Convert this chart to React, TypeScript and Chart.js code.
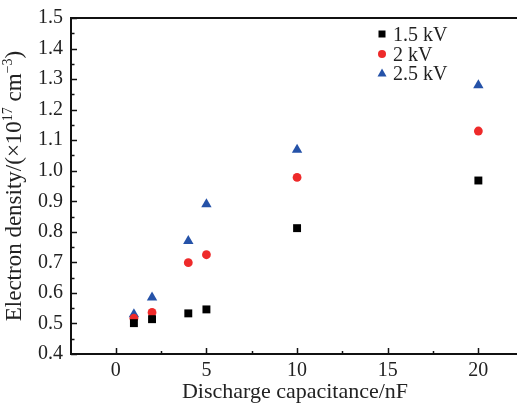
import React, { useEffect, useRef } from "react";
import { Chart, registerables } from "chart.js";

Chart.register(...registerables);

const capacitance = [1, 2, 4, 5, 10, 20];
const density15kV = [0.501, 0.514, 0.533, 0.546, 0.812, 0.968];
const density2kV = [0.517, 0.536, 0.699, 0.725, 0.978, 1.13];
const density25kV = [0.53, 0.585, 0.77, 0.89, 1.069, 1.28];
const seriesLabels = ["1.5 kV", "2 kV", "2.5 kV"];
const xTickValues = [0, 5, 10, 15, 20];
const yTickValues = [0.4, 0.5, 0.6, 0.7, 0.8, 0.9, 1.0, 1.1, 1.2, 1.3, 1.4, 1.5];

const FONT = '"Liberation Serif", "Times New Roman", serif';
const TEXT = "#222";

const toPoints = (ys: number[]) => capacitance.map((x, i) => ({ x, y: ys[i] }));

function marker(ctx: CanvasRenderingContext2D, style: string, x: number, y: number, color: string) {
  ctx.fillStyle = color;
  ctx.beginPath();
  if (style === "rect") {
    ctx.rect(x - 3.5, y - 3.5, 7, 7);
  } else if (style === "triangle") {
    ctx.moveTo(x, y - 4.5);
    ctx.lineTo(x + 4.5, y + 3.5);
    ctx.lineTo(x - 4.5, y + 3.5);
    ctx.closePath();
  } else {
    ctx.arc(x, y, 4, 0, Math.PI * 2);
  }
  ctx.fill();
}

const framePlugin = {
  id: "frameAndExtras",
  afterDraw(chart: any) {
    const { ctx, chartArea, scales } = chart;
    const xs = scales.x;
    const ys = scales.y;
    const { left, top, bottom } = chartArea;
    const W = chart.width;
    ctx.save();
    ctx.strokeStyle = "#111";
    ctx.lineWidth = 2;
    ctx.beginPath();
    ctx.moveTo(left, top);
    ctx.lineTo(W, top);
    ctx.moveTo(left, top - 1);
    ctx.lineTo(left, bottom);
    ctx.moveTo(left - 1, bottom);
    ctx.lineTo(W, bottom);
    ctx.stroke();
    ctx.lineWidth = 1.5;
    ctx.beginPath();
    for (let i = 0; i < xTickValues.length; i++) {
      const v = xTickValues[i];
      const px = Math.round(xs.getPixelForValue(v)) + 0.5;
      ctx.moveTo(px, bottom);
      ctx.lineTo(px, bottom - 6);
    }
    for (let i = 0; i < xTickValues.length; i++) {
      const v = xTickValues[i] + 2.5;
      const px = Math.round(xs.getPixelForValue(v)) + 0.5;
      if (px >= W) continue;
      ctx.moveTo(px, bottom);
      ctx.lineTo(px, bottom - 3);
    }
    for (let i = 0; i < yTickValues.length; i++) {
      const v = yTickValues[i];
      const py = Math.round(ys.getPixelForValue(v)) + 0.5;
      ctx.moveTo(left, py);
      ctx.lineTo(left + 6, py);
      if (i < yTickValues.length - 1) {
        const m = (v + yTickValues[i + 1]) / 2;
        const pm = Math.round(ys.getPixelForValue(m)) + 0.5;
        ctx.moveTo(left, pm);
        ctx.lineTo(left + 3.5, pm);
      }
    }
    ctx.stroke();

    ctx.fillStyle = TEXT;
    ctx.font = `22px ${FONT}`;
    ctx.textAlign = "center";
    ctx.textBaseline = "alphabetic";
    ctx.fillText("Discharge capacitance/nF", 295, 398);

    ctx.save();
    ctx.translate(21, 186);
    ctx.rotate(-Math.PI / 2);
    const parts: [string, boolean][] = [
      ["Electron density/(\u00d710", false],
      ["17", true],
      [" cm", false],
      ["\u22123", true],
      [")", false],
    ];
    const big = `23px ${FONT}`;
    const small = `14px ${FONT}`;
    let total = 0;
    for (const [t, sup] of parts) {
      ctx.font = sup ? small : big;
      total += ctx.measureText(t).width;
    }
    let cx = -total / 2;
    ctx.textAlign = "left";
    for (const [t, sup] of parts) {
      ctx.font = sup ? small : big;
      ctx.fillText(t, cx, sup ? -9 : 0);
      cx += ctx.measureText(t).width;
    }
    ctx.restore();

    const ds = chart.data.datasets;
    const rows = [34, 54, 73];
    for (let i = 0; i < ds.length; i++) {
      const d = ds[i];
      marker(ctx, d.pointStyle, 382, rows[i], d.backgroundColor);
      ctx.fillStyle = TEXT;
      ctx.font = `20px ${FONT}`;
      ctx.textAlign = "left";
      ctx.textBaseline = "alphabetic";
      ctx.fillText(seriesLabels[i], 393, rows[i] + 7);
    }
    ctx.restore();
  },
};

export default function App() {
  const ref = useRef<HTMLCanvasElement | null>(null);
  useEffect(() => {
    if (!ref.current) return;
    const chart = new Chart(ref.current, {
      type: "scatter",
      data: {
        datasets: [
          {
            label: seriesLabels[0],
            data: toPoints(density15kV),
            pointStyle: "rect",
            pointRadius: 5.6,
            backgroundColor: "#000000",
            borderColor: "#000000",
            borderWidth: 0,
          },
          {
            label: seriesLabels[1],
            data: toPoints(density2kV),
            pointStyle: "circle",
            pointRadius: 4.4,
            backgroundColor: "#ee2a2a",
            borderColor: "#ee2a2a",
            borderWidth: 0,
          },
          {
            label: seriesLabels[2],
            data: toPoints(density25kV),
            pointStyle: "triangle",
            pointRadius: 6,
            backgroundColor: "#2552a8",
            borderColor: "#2552a8",
            borderWidth: 0,
          },
        ] as any,
      },
      options: {
        responsive: false,
        animation: false,
        layout: { padding: { top: 15, right: 0, left: 0, bottom: 0 } },
        plugins: { legend: { display: false }, tooltip: { enabled: false } },
        scales: {
          x: {
            type: "linear",
            min: -2.47,
            max: 21.8,
            grid: { display: false, tickLength: 0 },
            border: { display: false },
            afterFit: (s: any) => {
              s.height = 50;
            },
            afterBuildTicks: (s: any) => {
              s.ticks = xTickValues.map((v) => ({ value: v }));
            },
            ticks: {
              font: { family: FONT, size: 20 },
              color: TEXT,
              padding: 5,
              maxRotation: 0,
              callback: (v: any) => String(v),
            },
          },
          y: {
            type: "linear",
            min: 0.4,
            max: 1.5,
            grid: { display: false, tickLength: 0 },
            border: { display: false },
            afterFit: (s: any) => {
              s.width = 71;
            },
            afterBuildTicks: (s: any) => {
              s.ticks = yTickValues.map((v) => ({ value: v }));
            },
            ticks: {
              font: { family: FONT, size: 20, lineHeight: 1 },
              color: TEXT,
              padding: 8,
              callback: (v: any) => Number(v).toFixed(1),
            },
          },
        },
      },
      plugins: [framePlugin],
    });
    return () => chart.destroy();
  }, []);
  return (
    <div style={{ position: "absolute", left: 0, top: 0, width: 517, height: 404, background: "#fff" }}>
      <canvas ref={ref} width={517} height={404} />
    </div>
  );
}
